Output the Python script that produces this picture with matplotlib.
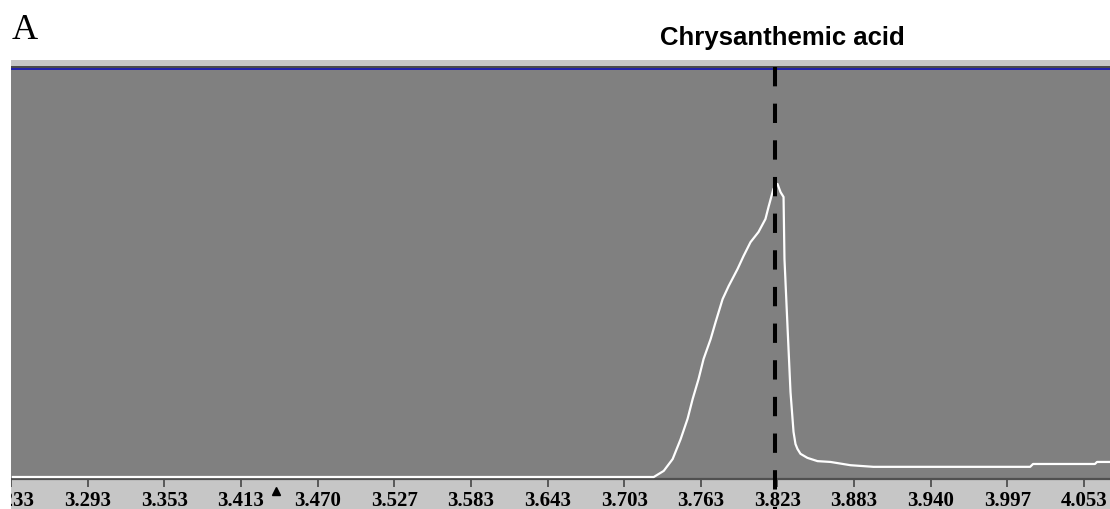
import numpy as np
import matplotlib
matplotlib.use("Agg")
import matplotlib.pyplot as plt
from matplotlib.patches import Rectangle
from matplotlib.transforms import blended_transform_factory

# chromatogram trace
# retention time (min) and signal (% of full scale)
rt = [3.236, 3.7225, 3.7248, 3.7324, 3.7392, 3.7453, 3.7506, 3.7545,
      3.7590, 3.7628, 3.7682, 3.7720, 3.7773, 3.7819, 3.7887, 3.7933,
      3.7986, 3.8047, 3.8100, 3.8123, 3.8161, 3.8192, 3.8215, 3.8238,
      3.8245, 3.8268, 3.8291, 3.8314, 3.8329, 3.8344, 3.8367, 3.8420,
      3.8497, 3.8596, 3.8748, 3.8923, 4.0119, 4.0141, 4.0613, 4.0629,
      4.0728]
signal = [0.0, 0.0, 0.0, 1.5, 4.4, 9.3, 14.3, 19.2,
          24.1, 29.0, 33.9, 38.1, 43.7, 46.9, 51.1, 54.3,
          57.7, 60.2, 63.4, 66.3, 70.8, 72.0, 70.0, 68.8,
          53.6, 37.1, 20.9, 11.1, 8.1, 6.9, 5.7, 4.7,
          3.9, 3.7, 2.9, 2.5, 2.5, 3.2, 3.2, 3.7,
          3.7]

# axis tick labels as printed by the software
tick_labels = ["3.233", "3.293", "3.353", "3.413", "3.470", "3.527", "3.583",
               "3.643", "3.703", "3.763", "3.823", "3.883", "3.940", "3.997",
               "4.053"]
tick_first = 3.23454
tick_step = 0.76 / 13

peak_rt = 3.8173      # dashed marker for the compound
cursor_rt = 3.437     # little triangle on the time axis
peak_name = "Chrysanthemic acid"

W, H = 1110, 510
fig = plt.figure(figsize=(W / 100, H / 100), dpi=100)
fig.patch.set_facecolor("white")

def fx(px):
    return px / W

def fy(py):
    # pixel measured from top -> figure fraction
    return 1 - py / H

def band(x0, y0, x1, y1, color, z=-1):
    # rectangle in pixel coordinates (y from top)
    r = Rectangle((fx(x0), fy(y1)), fx(x1) - fx(x0), fy(y0) - fy(y1),
                  transform=fig.transFigure, facecolor=color,
                  edgecolor="none", zorder=z)
    fig.patches.append(r)

# window frame pieces around the plot
band(11, 61, W, 67, "#c6c6c6")
band(11, 67, W, 68.5, "#4a4a4a")
band(11, 68.5, W, 71, "#2222a8")
band(11, 481, W, H, "#c6c6c6")

ax_top, ax_bot = 71, 480
ax = fig.add_axes([fx(11), fy(ax_bot), 1 - fx(11), (ax_bot - ax_top) / H])
ax.set_facecolor("#808080")

ax.plot(rt, signal, color="white", lw=1.6, zorder=3)

ax.set_xlim(3.2359, 4.0728)
ax.set_ylim(-0.49, 100)

# ticks
ticks = [tick_first + i * tick_step for i in range(len(tick_labels))]
ax.set_xticks(ticks)
ax.set_xticklabels(tick_labels, family="Liberation Serif",
                   fontweight="bold", fontsize=15)
ax.tick_params(axis="x", direction="out", length=6, width=1.3,
               color="#505050", pad=2.2)
ax.set_yticks([])
for s in ["left", "right", "top"]:
    ax.spines[s].set_visible(False)
ax.spines["bottom"].set_color("#505050")
ax.spines["bottom"].set_linewidth(1.6)

# dashed marker line through whole panel incl. the time axis band
trans = blended_transform_factory(ax.transData, ax.transAxes)
span = ax_bot - ax_top
ax.plot([peak_rt, peak_rt], [1 + 3 / span, -(H - ax_bot) / span],
        transform=trans, color="black", lw=2.9,
        linestyle=(0, (4.8, 4.3)), clip_on=False, zorder=6)

# cursor triangle
ax.plot([cursor_rt], [-(492 - ax_bot) / span], marker="^", color="black",
        markersize=5.5, transform=trans, clip_on=False, zorder=6)

# white strip hiding the cut-off first tick label
band(0, 0, 11, H, "white", z=10)

fig.text(fx(12), fy(39), "A", family="Liberation Serif", fontsize=26,
         va="baseline", ha="left")
fig.text(fx(782.5), fy(45), peak_name, family="Liberation Sans",
         fontweight="bold", fontsize=18.5, va="baseline", ha="center")

fig.savefig("out.png", dpi=100)
